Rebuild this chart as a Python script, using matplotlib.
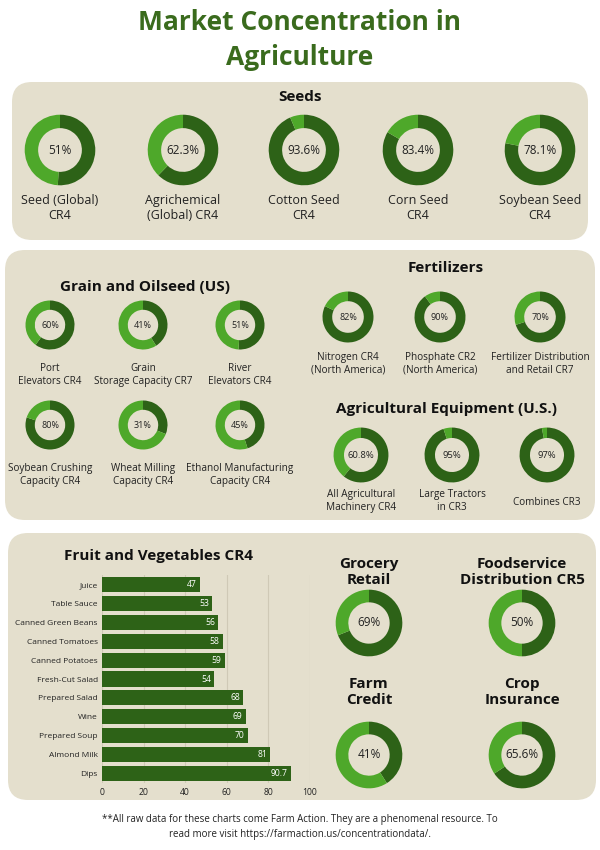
import matplotlib
matplotlib.use("Agg")
import matplotlib.pyplot as plt
from matplotlib.patches import FancyBboxPatch

plt.rcParams['font.family'] = ['Open Sans', 'DejaVu Sans']

DARK = "#2d6217"
LIGHT = "#4ea82a"
PANEL = "#e4dfcd"
TITLE_C = "#3a6b1d"

# --- data ---
seed_labels = ["Seed (Global)\nCR4", "Agrichemical\n(Global) CR4", "Cotton Seed\nCR4", "Corn Seed\nCR4", "Soybean Seed\nCR4"]
seed_vals = [51, 62.3, 93.6, 83.4, 78.1]
seed_txt = ["51%", "62.3%", "93.6%", "83.4%", "78.1%"]

grain_labels = ["Port\nElevators CR4", "Grain\nStorage Capacity CR7", "River\nElevators CR4",
                "Soybean Crushing\nCapacity CR4", "Wheat Milling\nCapacity CR4", "Ethanol Manufacturing\nCapacity CR4"]
grain_vals = [60, 41, 51, 80, 31, 45]

fert_labels = ["Nitrogen CR4\n(North America)", "Phosphate CR2\n(North America)", "Fertilizer Distribution\nand Retail CR7"]
fert_vals = [82, 90, 70]

equip_labels = ["All Agricultural\nMachinery CR4", "Large Tractors\nin CR3", "Combines CR3"]
equip_vals = [60.8, 95, 97]
equip_txt = ["60.8%", "95%", "97%"]

fv_cats = ["Juice", "Table Sauce", "Canned Green Beans", "Canned Tomatoes", "Canned Potatoes",
           "Fresh-Cut Salad", "Prepared Salad", "Wine", "Prepared Soup", "Almond Milk", "Dips"]
fv_vals = [47, 53, 56, 58, 59, 54, 68, 69, 70, 81, 90.7]

misc_titles = ["Grocery\nRetail", "Foodservice\nDistribution CR5", "Farm\nCredit", "Crop\nInsurance"]
misc_vals = [69, 50, 41, 65.6]
misc_txt = ["69%", "50%", "41%", "65.6%"]

W, H = 600, 850
fig = plt.figure(figsize=(6, 8.5), dpi=100)
fig.patch.set_facecolor("white")
bg = fig.add_axes([0, 0, 1, 1])
bg.set_xlim(0, W)
bg.set_ylim(H, 0)
bg.axis("off")

for x0, y0, x1, y1 in [(12, 82, 588, 240), (5, 250, 595, 520), (8, 533, 596, 800)]:
    bg.add_patch(FancyBboxPatch((x0 + 20, y0 + 20), x1 - x0 - 40, y1 - y0 - 40,
                                boxstyle="round,pad=20", fc=PANEL, ec="none"))

bg.text(300, 22, "Market Concentration in", ha="center", va="center", fontsize=19, fontweight="bold", color=TITLE_C)
bg.text(300, 57, "Agriculture", ha="center", va="center", fontsize=19, fontweight="bold", color=TITLE_C)


def donut(cx, cy, r, val, txt, fs):
    ax = fig.add_axes([(cx - r) / W, 1 - (cy + r) / H, 2 * r / W, 2 * r / H])
    ax.pie([val, 100 - val], colors=[DARK, LIGHT], startangle=90, counterclock=False,
           wedgeprops=dict(width=0.38, edgecolor="none"))
    ax.set_xlim(-1.02, 1.02)
    ax.set_ylim(-1.02, 1.02)
    ax.set_aspect("equal")
    ax.text(0, 0, txt, ha="center", va="center", fontsize=fs, color="#222222")


def label(x, y, s, fs=8.5):
    bg.text(x, y, s, ha="center", va="top", fontsize=fs, color="#222222", linespacing=1.2)


# Seeds
bg.text(300, 97, "Seeds", ha="center", va="center", fontsize=11, fontweight="bold", color="#111111")
for cx, v, t, l in zip([60, 183, 304, 418, 540], seed_vals, seed_txt, seed_labels):
    donut(cx, 150, 36, v, t, 8.5)
    label(cx, 194, l, 9)

# Grain and oilseed
bg.text(145, 287, "Grain and Oilseed (US)", ha="center", va="center", fontsize=11, fontweight="bold", color="#111111")
gx = [50, 143, 240]
for i, (v, l) in enumerate(zip(grain_vals, grain_labels)):
    cx = gx[i % 3]
    cy = 325 if i < 3 else 425
    donut(cx, cy, 25, v, f"{v}%", 6.5)
    label(cx, cy + 38, l, 7.2)

# Fertilizers
bg.text(446, 268, "Fertilizers", ha="center", va="center", fontsize=11, fontweight="bold", color="#111111")
for cx, v, l in zip([348, 440, 540], fert_vals, fert_labels):
    donut(cx, 317, 26, v, f"{v}%", 6.5)
    label(cx, 352, l, 7.2)

# Equipment
bg.text(446, 409, "Agricultural Equipment (U.S.)", ha="center", va="center", fontsize=11, fontweight="bold", color="#111111")
for cx, v, t, l in zip([361, 452, 547], equip_vals, equip_txt, equip_labels):
    donut(cx, 455, 28, v, t, 6.8)
    label(cx, 497 if "\n" not in l else 489, l, 7.2)

# Fruit and vegetables bar chart
bg.text(158, 556, "Fruit and Vegetables CR4", ha="center", va="center", fontsize=11, fontweight="bold", color="#111111")
bx0, bx1, by0, by1 = 102, 310, 575, 783
bax = fig.add_axes([bx0 / W, 1 - by1 / H, (bx1 - bx0) / W, (by1 - by0) / H])
bax.set_facecolor("none")
ypos = list(range(len(fv_cats)))
bax.barh(ypos, fv_vals, height=0.8, color=DARK, zorder=3)
for y, v in zip(ypos, fv_vals):
    bax.text(v - 1.5, y, f"{v:g}", ha="right", va="center", fontsize=6.2, color="white", zorder=4)
bax.set_yticks(ypos)
bax.set_yticklabels(fv_cats, fontsize=6, color="#222222")
bax.set_ylim(len(fv_cats) - 0.5, -0.5)
bax.set_xlim(0, 100)
bax.set_xticks([0, 20, 40, 60, 80, 100])
bax.tick_params(axis="x", labelsize=6.2, colors="#222222", length=0)
bax.tick_params(axis="y", length=0, pad=3)
bax.grid(axis="x", color="#cfc9b6", linewidth=0.8, zorder=0)
for s in bax.spines.values():
    s.set_visible(False)

# Misc donuts
for (tx, ty, cy), tt, v, t in zip([(369, 572, 623), (522, 572, 623), (369, 692, 755), (522, 692, 755)],
                                  misc_titles, misc_vals, misc_txt):
    bg.text(tx, ty, tt, ha="center", va="center", fontsize=11, fontweight="bold", color="#111111", linespacing=1.2)
    donut(tx, cy, 34, v, t, 8.5)

bg.text(300, 827, "**All raw data for these charts come Farm Action. They are a phenomenal resource. To\nread more visit https://farmaction.us/concentrationdata/.",
        ha="center", va="center", fontsize=7, color="#222222", linespacing=1.4)

fig.savefig("out.png", dpi=100, facecolor="white")
